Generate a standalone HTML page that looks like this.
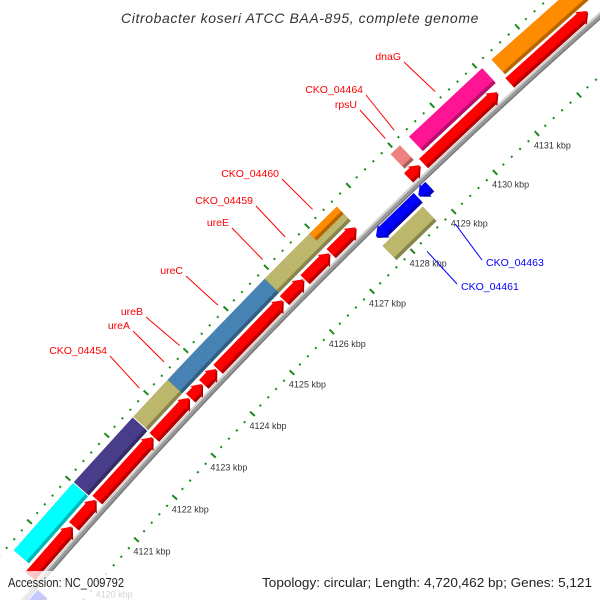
<!DOCTYPE html>
<html>
<head>
<meta charset="utf-8">
<style>
  html, body { margin: 0; padding: 0; background: #ffffff; width: 600px; height: 600px; overflow: hidden; }
  #wrap { width: 600px; height: 600px; position: relative; overflow: hidden; }
  svg { display: block; }
  text { font-family: "Liberation Sans", "DejaVu Sans", sans-serif; }
</style>
</head>
<body>
<div id="wrap">
<svg id="map" width="600" height="600" viewBox="0 0 600 600" xmlns="http://www.w3.org/2000/svg">
  <g id="ticks"></g>
  <g id="backbone"></g>
  <g id="features"></g>
  <g id="labels"></g>
  <text x="300" y="23" text-anchor="middle" font-size="14" font-style="italic" fill="#333" letter-spacing="0.6">Citrobacter koseri ATCC BAA-895, complete genome</text>
  <rect x="0" y="571" width="600" height="29" fill="#ffffff" fill-opacity="0.78"></rect>
  <text x="8" y="587" font-size="13" fill="#222" textLength="116" lengthAdjust="spacingAndGlyphs">Accession: NC_009792</text>
  <text x="262" y="587" font-size="13" fill="#222" textLength="330" lengthAdjust="spacingAndGlyphs">Topology: circular; Length: 4,720,462 bp; Genes: 5,121</text>
</svg>
</div>
<script>
// ---- data (kbp positions) ----
const cdsStart = [4119.30, 4120.45, 4121.06, 4122.53, 4123.46, 4123.79, 4124.15, 4125.81, 4126.32, 4126.96, 4128.84, 4129.20, 4131.25];
const cdsEnd   = [4120.42, 4121.04, 4122.51, 4123.44, 4123.77, 4124.13, 4125.79, 4126.30, 4126.94, 4127.58, 4129.13, 4130.98, 4133.08];

const geneNames  = ["gene-cyan", "gene-slate", "CKO_04454", "ureA", "ureB", "ureC", "ureE", "CKO_04459", "rpsU", "dnaG", "gene-orange"];
const geneStart  = [4119.45, 4121.02, 4122.55, 4123.42, 4123.77, 4124.15, 4125.84, 4126.25, 4128.90, 4129.34, 4131.29];
const geneEnd    = [4121.00, 4122.53, 4123.42, 4123.77, 4124.15, 4125.84, 4126.25, 4126.94, 4129.12, 4131.07, 4134.50];
const geneColors = ["#00ffff", "#483d8b", "#bdb76b", "#4682b4", "#4682b4", "#4682b4", "#bdb76b", "#bdb76b", "#f08080", "#ff1493", "#ff8c00"];

const splitStart = [4126.94];
const splitEnd   = [4127.60];

const revCdsStart = [4118.50, 4127.72, 4128.75];
const revCdsEnd   = [4119.20, 4128.72, 4129.00];
const revGeneStart = [4127.69];
const revGeneEnd   = [4128.67];

const tickFirst = 4118;
const tickLast = 4135;
const tickLabels = ["4120 kbp","4121 kbp","4122 kbp","4123 kbp","4124 kbp","4125 kbp","4126 kbp","4127 kbp","4128 kbp","4129 kbp","4130 kbp","4131 kbp"];
const tickLabelKbp = [4120,4121,4122,4123,4124,4125,4126,4127,4128,4129,4130,4131];

const labelText = ["dnaG","CKO_04464","rpsU","CKO_04460","CKO_04459","ureE","ureC","ureB","ureA","CKO_04454"];
const labelKbp  = [4130.20, 4129.23, 4129.02, 4127.27, 4126.60, 4126.05, 4124.95, 4123.99, 4123.60, 4122.98];
const labelX    = [401, 363, 357, 279, 253, 229, 183, 143, 130, 107];
const labelY    = [60, 93, 108, 177, 204, 226, 274, 315, 329, 354];

const revLabelText = ["CKO_04463","CKO_04461"];
const revLabelKbp  = [4128.87, 4128.18];
const revLabelX    = [486, 461];
const revLabelY    = [266, 290];

// ---- geometry ----
const CX = 4573, CY = 4512, R0 = 6000;
const K0 = 4121, A0 = -138.16, DEG = 0.549;
const NS = "http://www.w3.org/2000/svg";
function ang(k) { return (A0 + (k - K0) * DEG) * Math.PI / 180; }
function pt(k, d) { const a = ang(k); return [CX + (R0 + d) * Math.cos(a), CY + (R0 + d) * Math.sin(a)]; }
function P(arr) { return arr.map(p => p[0].toFixed(2) + "," + p[1].toFixed(2)).join(" "); }
function mk(tag, parent) { const e = document.createElementNS(NS, tag); parent.appendChild(e); return e; }

function bandPts(k1, k2, d1, d2) { return [pt(k1, d1), pt(k2, d1), pt(k2, d2), pt(k1, d2)]; }
function fwdPts(k1, k2, d1, d2) {
  const hk = Math.min(0.16, (k2 - k1) * 0.6), m = (d1 + d2) / 2;
  return [pt(k1, d1), pt(k2 - hk, d1), pt(k2 - hk, d1 - 2), pt(k2, m), pt(k2 - hk, d2 + 2), pt(k2 - hk, d2), pt(k1, d2)];
}
function revPts(k1, k2, d1, d2) {
  const hk = Math.min(0.16, (k2 - k1) * 0.6), m = (d1 + d2) / 2;
  return [pt(k2, d1), pt(k1 + hk, d1), pt(k1 + hk, d1 - 2), pt(k1, m), pt(k1 + hk, d2 + 2), pt(k1 + hk, d2), pt(k2, d2)];
}
function shade(hex, f) {
  const n = parseInt(hex.slice(1), 16);
  const r = Math.round(((n >> 16) & 255) * f), g = Math.round(((n >> 8) & 255) * f), b = Math.round((n & 255) * f);
  return "rgb(" + r + "," + g + "," + b + ")";
}

const gT = document.getElementById("ticks");
const gB = document.getElementById("backbone");
const gF = document.getElementById("features");
const gL = document.getElementById("labels");

// ---- tick rings ----
for (let i = 0; i <= Math.round((tickLast - tickFirst) * 5); i++) {
  const k = tickFirst + i * 0.2;
  const major = Math.abs(k - Math.round(k)) < 1e-6;
  [47, -45].forEach(function (d) {
    const half = major ? 3.2 : 1;
    const a = pt(k, d - half), b = pt(k, d + half);
    const t = mk("line", gT);
    
    
    t.setAttribute("x1", a[0]); t.setAttribute("y1", a[1]);
    t.setAttribute("x2", b[0]); t.setAttribute("y2", b[1]);
    t.setAttribute("stroke", "#1a8a1a");
    t.setAttribute("stroke-width", 2);
  });
}
tickLabels.forEach(function (lab, i) {
  const p = pt(tickLabelKbp[i], -45);
  const t = mk("text", gT);
  
  
  t.setAttribute("x", p[0] - 3);
  t.setAttribute("y", p[1] + 15);
  t.setAttribute("font-size", "9");
  t.setAttribute("fill", "#333");
  t.textContent = lab;
});

// ---- backbone ----
function arcPts(k1, k2, d) { const out = []; for (let k = k1; k <= k2 + 1e-9; k += 0.25) out.push(pt(k, d)); return out; }
[[0, 6, "#9a9a9a"], [2, 1.6, "#d6d6d6"], [-2.3, 1.4, "#7a7a7a"]].forEach(function (s) {
  const l = mk("polyline", gB);
  
  
  l.setAttribute("points", P(arcPts(4117, 4136, s[0])));
  l.setAttribute("fill", "none");
  l.setAttribute("stroke", s[2]);
  l.setAttribute("stroke-width", s[1]);
});

// ---- features ----
function drawShape(ptsFn, k1, k2, d1, d2, color, name) {
  const g = mk("g", gF);
  
  
  const dark = mk("polygon", g);
  
  
  dark.setAttribute("points", P(ptsFn(k1, k2, d1, d2)));
  dark.setAttribute("fill", shade(color, 0.72));
  const top = mk("polygon", g);
  
  
  top.setAttribute("points", P(ptsFn(k1, k2, d1 + 3.5, d2)));
  top.setAttribute("fill", color);
}

cdsStart.forEach(function (s, i) { drawShape(fwdPts, s, cdsEnd[i], 4, 17, "#ff0000", "cds-arrow"); });
geneStart.forEach(function (s, i) { drawShape(bandPts, s, geneEnd[i], 20, 40, geneColors[i], "gene-" + geneNames[i]); });
splitStart.forEach(function (s, i) {
  drawShape(bandPts, s, splitEnd[i], 20, 30, "#bdb76b", "gene-CKO_04460-inner");
  drawShape(bandPts, s, splitEnd[i], 30, 40, "#ff8c00", "gene-CKO_04460-outer");
});
revCdsStart.forEach(function (s, i) { drawShape(revPts, s, revCdsEnd[i], -17, -4, "#0000ff", "reverse-cds-arrow"); });
revGeneStart.forEach(function (s, i) { drawShape(bandPts, s, revGeneEnd[i], -40, -20, "#bdb76b", "reverse-gene"); });

// ---- labels ----
labelText.forEach(function (txt, i) {
  const e = pt(labelKbp[i], 55);
  const ln = mk("line", gL);
  
  
  ln.setAttribute("x1", labelX[i] + 3); ln.setAttribute("y1", labelY[i] + 2);
  ln.setAttribute("x2", e[0]); ln.setAttribute("y2", e[1]);
  ln.setAttribute("stroke", "#ff0000"); ln.setAttribute("stroke-width", "1");
  const t = mk("text", gL);
  
  
  t.setAttribute("x", labelX[i]); t.setAttribute("y", labelY[i]);
  t.setAttribute("text-anchor", "end");
  t.setAttribute("font-size", "10.5");
  t.setAttribute("fill", "#ff0000");
  t.textContent = txt;
});
revLabelText.forEach(function (txt, i) {
  const e = pt(revLabelKbp[i], -55);
  const ln = mk("line", gL);
  
  
  ln.setAttribute("x1", revLabelX[i] - 4); ln.setAttribute("y1", revLabelY[i] - 6);
  ln.setAttribute("x2", e[0]); ln.setAttribute("y2", e[1]);
  ln.setAttribute("stroke", "#0000ff"); ln.setAttribute("stroke-width", "1");
  const t = mk("text", gL);
  
  
  t.setAttribute("x", revLabelX[i]); t.setAttribute("y", revLabelY[i]);
  t.setAttribute("font-size", "10.5");
  t.setAttribute("fill", "#0000ff");
  t.textContent = txt;
});
</script>
</body>
</html>
